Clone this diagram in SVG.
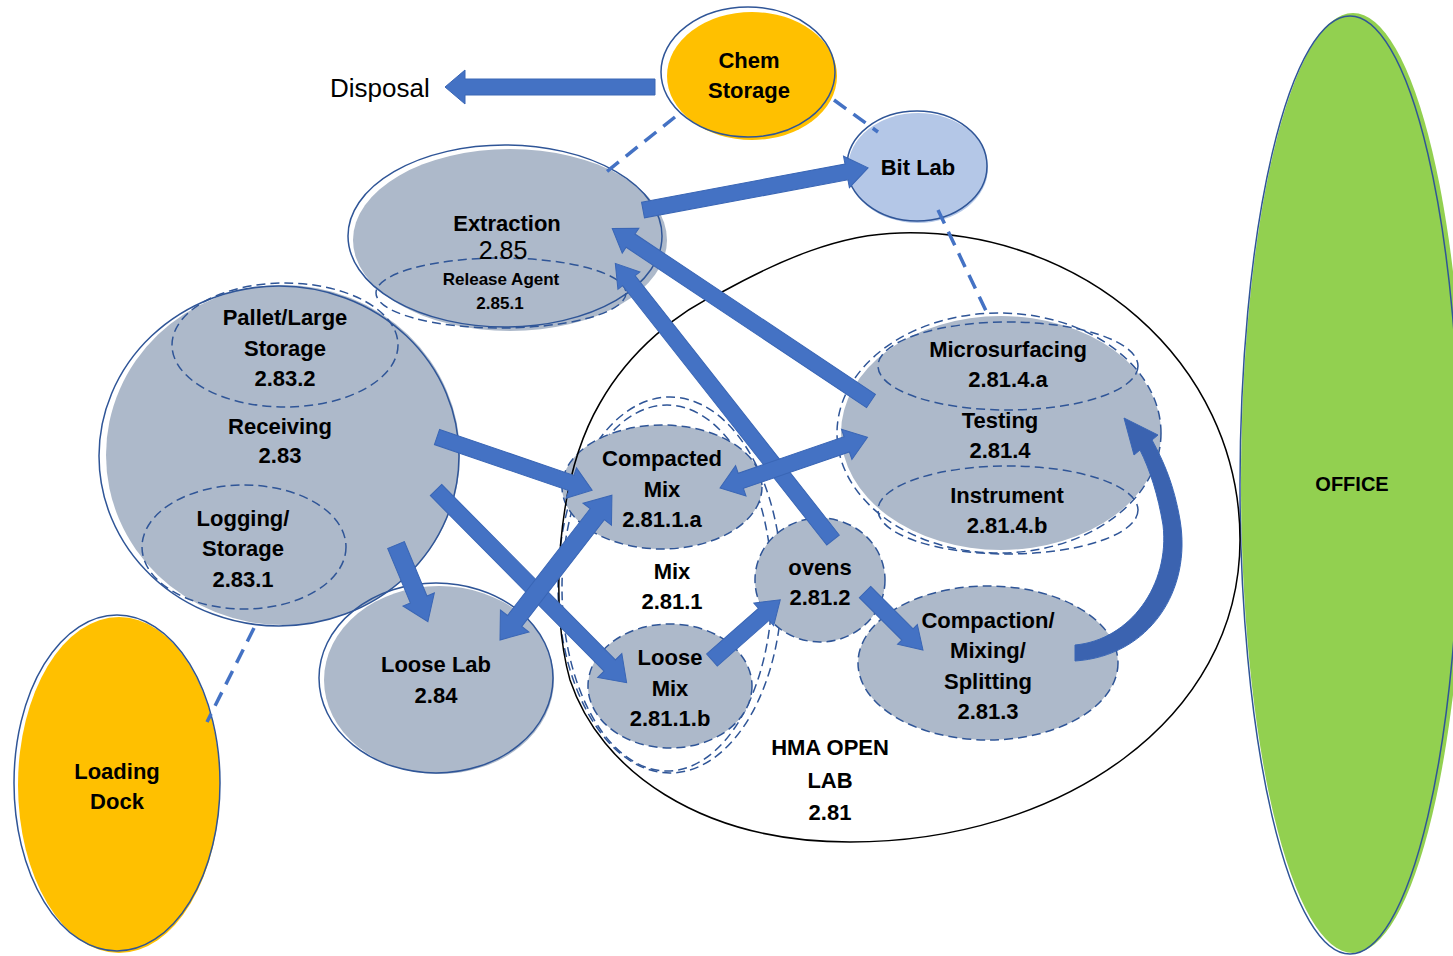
<svg xmlns="http://www.w3.org/2000/svg" width="1453" height="956" viewBox="0 0 1453 956">
<style>
.t{font-family:"Liberation Sans",Arial,sans-serif;font-weight:bold;font-size:22px;text-anchor:middle;fill:#000}
.s{font-size:17px}
.r{font-weight:normal;font-size:26px}
.gf{fill:#ADB9CA}
.ol{fill:none;stroke:#2F5597;stroke-width:1.5}
.dl{fill:none;stroke:#2F5597;stroke-width:1.5;stroke-dasharray:9 5}
.con{stroke:#4472C4;stroke-width:3.5;stroke-dasharray:15 9;fill:none}
.ar{fill:#4472C4;stroke:#3A66B5;stroke-width:1}
</style>
<rect width="1453" height="956" fill="#fff"/>

<g id="office">
<ellipse cx="1353" cy="483" rx="112" ry="470" fill="#92D050"/>
<ellipse cx="1350" cy="485" rx="110" ry="469" class="ol"/>
<text x="1352" y="491" class="t" style="font-size:20px">OFFICE</text>
</g>

<g id="chem-storage">
<ellipse cx="752" cy="76" rx="85" ry="64" fill="#FFC000"/>
<ellipse cx="748" cy="72" rx="87" ry="65" class="ol"/>
<text x="749" y="68" class="t">Chem</text>
<text x="749" y="98" class="t">Storage</text>
</g>

<g id="disposal">
<text x="330" y="97" class="t r" style="text-anchor:start">Disposal</text>
</g>

<g id="bit-lab">
<ellipse cx="918" cy="168" rx="70" ry="55" fill="#B4C7E7"/>
<ellipse cx="917" cy="166" rx="70" ry="55" class="ol"/>
<text x="918" y="175" class="t">Bit Lab</text>
</g>

<g id="extraction">
<ellipse cx="510" cy="240" rx="157" ry="91" class="gf"/>
<ellipse cx="505" cy="236" rx="157" ry="91" class="ol"/>
<ellipse cx="501" cy="293" rx="125" ry="35" class="dl"/>
<text x="507" y="231" class="t">Extraction</text>
<text x="503" y="259" class="t r" style="font-size:25px">2.85</text>
<text x="501" y="285" class="t s">Release Agent</text>
<text x="500" y="309" class="t s">2.85.1</text>
</g>

<g id="receiving">
<ellipse cx="283" cy="455" rx="177" ry="170" class="gf"/>
<ellipse cx="279" cy="456" rx="180" ry="170" class="ol"/>
<ellipse cx="285" cy="345" rx="113" ry="62" class="dl"/>
<ellipse cx="244" cy="547" rx="102" ry="62" class="dl"/>
<text x="285" y="325" class="t">Pallet/Large</text>
<text x="285" y="356" class="t">Storage</text>
<text x="285" y="386" class="t">2.83.2</text>
<text x="280" y="434" class="t">Receiving</text>
<text x="280" y="463" class="t">2.83</text>
<text x="243" y="526" class="t">Logging/</text>
<text x="243" y="556" class="t">Storage</text>
<text x="243" y="587" class="t">2.83.1</text>
</g>

<g id="loose-lab">
<ellipse cx="439" cy="680" rx="115" ry="94" class="gf"/>
<ellipse cx="436" cy="678" rx="117" ry="95" class="ol"/>
<text x="436" y="672" class="t">Loose Lab</text>
<text x="436" y="703" class="t">2.84</text>
</g>

<g id="loading-dock">
<ellipse cx="119" cy="785" rx="101" ry="168" fill="#FFC000"/>
<ellipse cx="117" cy="783" rx="103" ry="168" class="ol"/>
<text x="117" y="779" class="t">Loading</text>
<text x="117" y="809" class="t">Dock</text>
</g>

<g id="mix">
<ellipse cx="670" cy="585" rx="112" ry="188" class="dl"/>
<ellipse cx="667" cy="588" rx="105" ry="183" class="dl"/>
<text x="672" y="579" class="t">Mix</text>
<text x="672" y="609" class="t">2.81.1</text>
</g>

<g id="compacted-mix">
<ellipse cx="662" cy="487" rx="100" ry="62" class="gf"/>
<ellipse cx="662" cy="487" rx="100" ry="62" class="dl"/>
<text x="662" y="466" class="t">Compacted</text>
<text x="662" y="497" class="t">Mix</text>
<text x="662" y="527" class="t">2.81.1.a</text>
</g>

<g id="loose-mix">
<ellipse cx="670" cy="686" rx="82" ry="62" class="gf"/>
<ellipse cx="670" cy="686" rx="82" ry="62" class="dl"/>
<text x="670" y="665" class="t">Loose</text>
<text x="670" y="696" class="t">Mix</text>
<text x="670" y="726" class="t">2.81.1.b</text>
</g>

<g id="ovens">
<ellipse cx="820" cy="580" rx="65" ry="62" class="gf"/>
<ellipse cx="820" cy="580" rx="65" ry="62" class="dl"/>
<text x="820" y="575" class="t">ovens</text>
<text x="820" y="605" class="t">2.81.2</text>
</g>

<g id="testing">
<ellipse cx="1001" cy="433" rx="160" ry="117" class="gf"/>
<ellipse cx="999" cy="433" rx="162" ry="120" class="dl"/>
<ellipse cx="1008" cy="366" rx="130" ry="44" class="dl"/>
<ellipse cx="1008" cy="510" rx="130" ry="44" class="dl"/>
<text x="1008" y="357" class="t">Microsurfacing</text>
<text x="1008" y="387" class="t">2.81.4.a</text>
<text x="1000" y="428" class="t">Testing</text>
<text x="1000" y="458" class="t">2.81.4</text>
<text x="1007" y="503" class="t">Instrument</text>
<text x="1007" y="533" class="t">2.81.4.b</text>
</g>

<g id="compaction">
<ellipse cx="988" cy="663" rx="130" ry="77" class="gf"/>
<ellipse cx="988" cy="663" rx="130" ry="77" class="dl"/>
<text x="988" y="628" class="t">Compaction/</text>
<text x="988" y="658" class="t">Mixing/</text>
<text x="988" y="689" class="t">Splitting</text>
<text x="988" y="719" class="t">2.81.3</text>
</g>

<g id="hma-open-lab">
<path d="M900,233 C1080,228 1240,360 1240,540 C1240,720 1060,842 850,842 C700,842 600,770 570,680 C550,610 555,480 600,403 C630,350 680,310 722,292 C780,260 840,234 900,233 Z" fill="none" stroke="#000" stroke-width="1.5"/>
<text x="830" y="755" class="t">HMA OPEN</text>
<text x="830" y="788" class="t">LAB</text>
<text x="830" y="820" class="t">2.81</text>
</g>

<g id="connectors">
<line x1="675" y1="117" x2="605" y2="173" class="con"/>
<line x1="834" y1="100" x2="878" y2="132" class="con"/>
<line x1="938" y1="210" x2="988" y2="315" class="con"/>
<line x1="254" y1="628" x2="207" y2="722" class="con"/>
<polygon class="ar" points="0,-8 190,-8 190,-17 210,0 190,17 190,8 0,8" transform="translate(655,87) rotate(180)"/>
<polygon class="ar" points="0,-8 207,-8 207,-16 229,0 207,16 207,8 0,8" transform="translate(643,210) rotate(-10.6)"/>
<polygon class="ar" points="0,-8 289,-8 289,-15 311,0 289,15 289,8 0,8" transform="translate(871,401) rotate(-146.3)"/>
<polygon class="ar" points="0,-8 330,-8 330,-14 352,0 330,14 330,8 0,8" transform="translate(833,540) rotate(-128.2)"/>
<polygon class="ar" points="0,-8 142,-8 142,-16 164,0 142,16 142,8 0,8" transform="translate(437,437) rotate(18.9)"/>
<polygon class="ar" points="0,-8 247,-8 247,-17 271,0 247,17 247,8 0,8" transform="translate(436,490) rotate(45.3)"/>
<polygon class="ar" points="0,-9 59,-9 59,-17 83,0 59,17 59,9 0,9" transform="translate(396,545) rotate(67.4)"/>
<polygon class="ar" points="0,0 24,-18 24,-9 159,-9 159,-18 183,0 159,18 159,9 24,9 24,18" transform="translate(500,640) rotate(-52.3)"/>
<polygon class="ar" points="0,0 22,-16 22,-8 134,-8 134,-16 156,0 134,16 134,8 22,8 22,16" transform="translate(720,488) rotate(-19)"/>
<polygon class="ar" points="0,-8 69,-8 69,-15 91,0 69,15 69,8 0,8" transform="translate(712,660) rotate(-41.4)"/>
<polygon class="ar" points="0,-8 60,-8 60,-14 82,0 60,14 60,8 0,8" transform="translate(865,592) rotate(45)"/>
<path class="ar" style="fill:#3B63B0" d="M1075,661 C1150,656 1192,590 1180,520 C1174,485 1164,462 1152,440 L1158,435 L1124,418 L1134,455 L1140,450 C1150,470 1158,495 1163,525 C1170,585 1130,640 1075,645 Z"/>
</g>
</svg>
